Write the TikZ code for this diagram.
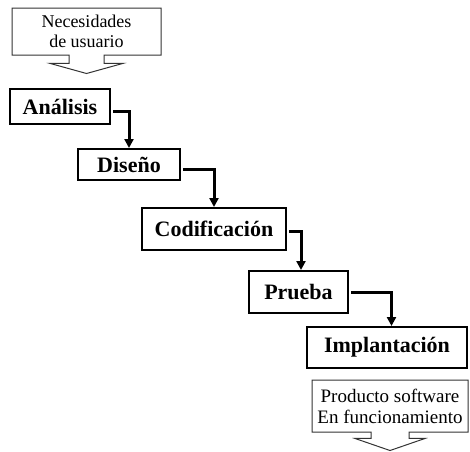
\documentclass[tikz,border=0pt]{standalone}
\usepackage{fontspec}
\setmainfont{Liberation Serif}
\usetikzlibrary{arrows.meta,shapes.arrows}

\tikzset{
  stage/.style={draw,line width=2pt,inner sep=0pt,font=\fontsize{22}{26}\selectfont\bfseries},
  note/.style={arrow box,draw=black!80,line width=1pt,inner sep=0pt,align=center,
    arrow box arrows={south:18pt}},
  link/.style={line width=3pt,-{Triangle[width=9pt,length=9pt]}}
}

\begin{document}
\begin{tikzpicture}[x=1pt,y=-1pt]
\useasboundingbox (0,0) rectangle (470,451);
% entrada y salida
\node[note,minimum width=149pt,minimum height=47pt,arrow box shaft width=35pt,
  arrow box head extend=19pt,arrow box tip angle=149,font=\fontsize{18}{20}\selectfont]
  (need) at (86.5,31.5) {Necesidades\\de usuario};
\node[note,minimum width=156pt,minimum height=52pt,arrow box shaft width=38pt,
  arrow box head extend=16pt,arrow box tip angle=142,font=\fontsize{19}{21}\selectfont]
  (prod) at (390,406) {Producto software\\En funcionamiento};
% fases
\node[stage,minimum width=100pt,minimum height=35pt] (ana) at (60,106.5) {Análisis};
\node[stage,minimum width=102pt,minimum height=31pt] (dis) at (129,164.5) {Diseño};
\node[stage,minimum width=144pt,minimum height=42pt] (cod) at (214,229) {Codificación};
\node[stage,minimum width=99pt,minimum height=42pt] (pru) at (298.5,292) {Prueba};
\node[stage,minimum width=160pt,minimum height=41pt] (imp) at (387,347.5) {Implantación};
% flechas
\draw[link] ([xshift=2pt,yshift=-4.5pt]ana.east) -| (dis.north);
\draw[link] ([xshift=2pt,yshift=-5pt]dis.east) -| (cod.north);
\draw[link] ([xshift=2pt,yshift=-2pt]cod.east) -| ([xshift=2.5pt]pru.north);
\draw[link] ([xshift=2pt]pru.east) -| ([xshift=4.5pt]imp.north);
\end{tikzpicture}
\end{document}
